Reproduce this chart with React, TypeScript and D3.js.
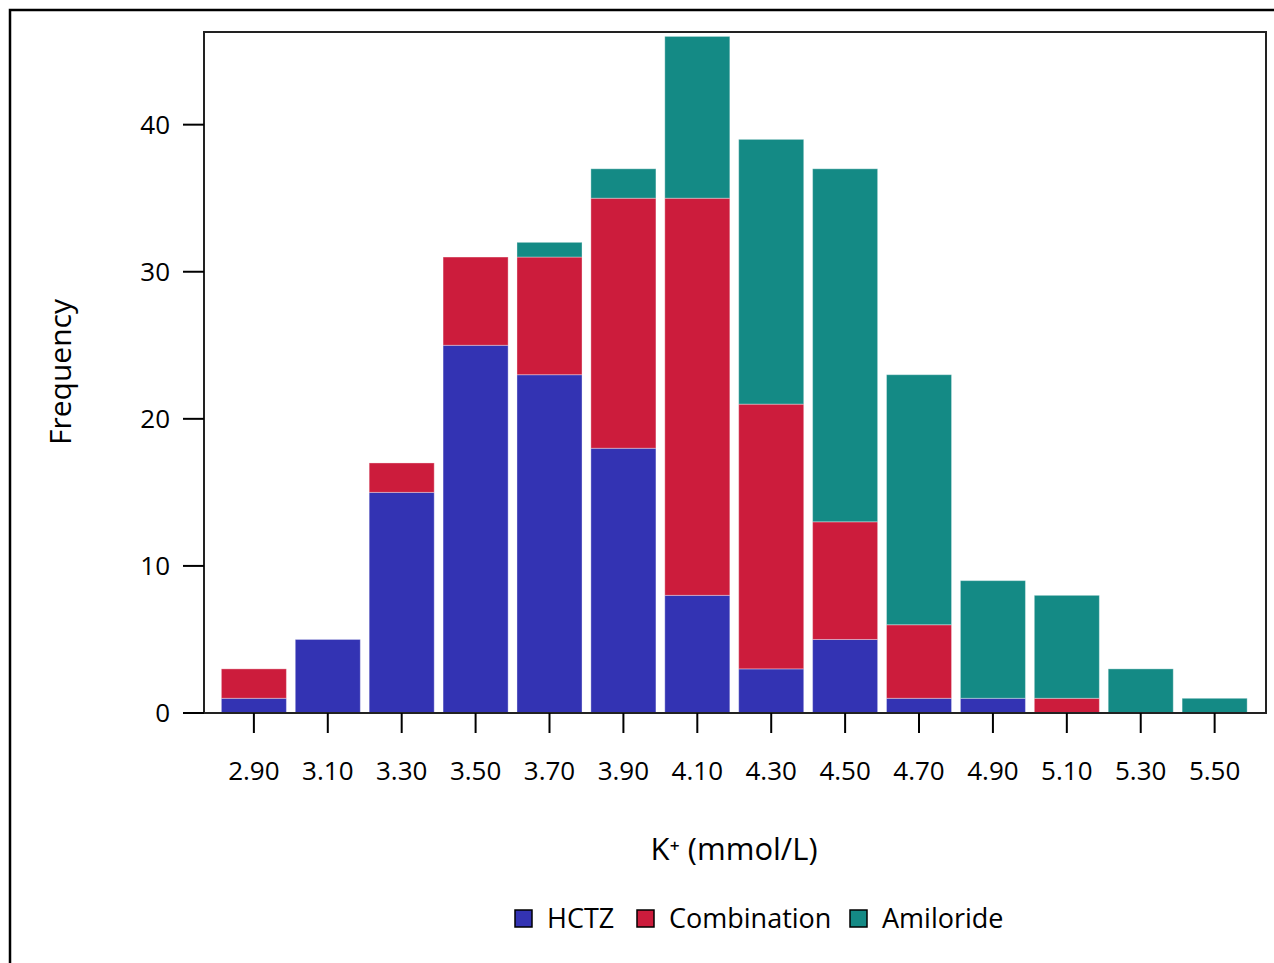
import React from 'react';
import * as d3 from 'd3';

const bins = [2.9, 3.1, 3.3, 3.5, 3.7, 3.9, 4.1, 4.3, 4.5, 4.7, 4.9, 5.1, 5.3, 5.5];
const hctz = [1, 5, 15, 25, 23, 18, 8, 3, 5, 1, 1, 0, 0, 0];
const combination = [2, 0, 2, 6, 8, 17, 27, 18, 8, 5, 0, 1, 0, 0];
const amiloride = [0, 0, 0, 0, 1, 2, 11, 18, 24, 17, 8, 7, 3, 1];
const yTicks = [0, 10, 20, 30, 40];

const seriesNames = ['HCTZ', 'Combination', 'Amiloride'];
const colors = ['#3333b3', '#cc1c3c', '#148a85'];

const W = 1274;
const H = 963;
const left = 204, right = 1266, top = 32, bottom = 713;
const font = '"Open Sans", sans-serif';

const App = () => {
    const x = d3.scaleLinear().domain([2.765, 5.639]).range([left, right]);
    const y = d3.scaleLinear().domain([0, 46.3]).range([bottom, top]);
    const barW = x(2.9 + 0.176) - x(2.9);

    const rows = bins.map((b, i) => ({ bin: b, HCTZ: hctz[i], Combination: combination[i], Amiloride: amiloride[i] }));
    const stacked = d3.stack().keys(seriesNames)(rows as any);

    return (
        <svg width={W} height={H} style={{ position: 'absolute', left: 0, top: 0, fontFamily: font }}>
            <rect x={0} y={0} width={W} height={H} fill="white" />
            <rect x={10} y={10} width={1270} height={970} fill="none" stroke="#000" strokeWidth={2.5} />

            {stacked.map((s, si) => (
                <g key={seriesNames[si]} fill={colors[si]}>
                    {s.map((d, i) => d[1] - d[0] > 0 && (
                        <rect
                            key={i}
                            x={x(bins[i]) - barW / 2}
                            y={y(d[1])}
                            width={barW}
                            height={y(d[0]) - y(d[1])}
                            stroke="#ffffff"
                            strokeOpacity={0.35}
                            strokeWidth={1}
                        />
                    ))}
                </g>
            ))}

            {/* plot frame */}
            <rect x={left} y={top} width={right - left} height={bottom - top} fill="none" stroke="#222" strokeWidth={2} />

            {/* y axis */}
            {yTicks.map(t => (
                <g key={t}>
                    <line x1={183} x2={left} y1={y(t)} y2={y(t)} stroke="#000" strokeWidth={2} />
                    <text x={170} y={y(t)} dy="0.36em" textAnchor="end" fontSize={26}>{t}</text>
                </g>
            ))}

            {/* x axis */}
            {bins.map(b => (
                <g key={b}>
                    <line x1={x(b)} x2={x(b)} y1={bottom} y2={733} stroke="#000" strokeWidth={2} />
                    <text x={x(b)} y={780} textAnchor="middle" fontSize={26}>{d3.format('.2f')(b)}</text>
                </g>
            ))}

            <text x={734} y={860} textAnchor="middle" fontSize={31}>K⁺ (mmol/L)</text>
            <text transform="translate(71,372) rotate(-90)" textAnchor="middle" fontSize={30}>Frequency</text>

            {/* legend */}
            {seriesNames.map((n, i) => {
                const lx = [515, 637, 850][i];
                return (
                    <g key={n}>
                        <rect x={lx} y={910} width={17} height={17} fill={colors[i]} stroke="#000" strokeWidth={1.5} />
                        <text x={lx + 32} y={928} fontSize={27}>{n}</text>
                    </g>
                );
            })}
        </svg>
    );
}

export default App;
